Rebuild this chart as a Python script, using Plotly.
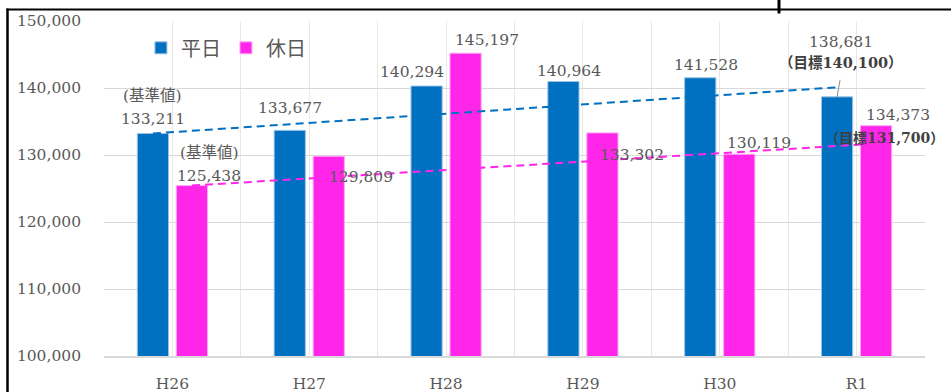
import plotly.graph_objects as go

# ---------------- data ----------------
categories = ["H26", "H27", "H28", "H29", "H30", "R1"]
weekday = [133211, 133677, 140294, 140964, 141528, 138681]
holiday = [125438, 129809, 145197, 133302, 130119, 134373]
weekday_target = 140100
holiday_target = 131700
y_ticks = [100000, 110000, 120000, 130000, 140000, 150000]
series_names = ["平日", "休日"]
base_label = "(基準値)"
target_fmt = "（目標{:,}）"

# ---------------- style ----------------
W, H = 951, 392
ML, MR, MT, MB = 104, 26, 21, 36
PW, PH = W - ML - MR, H - MT - MB
BLUE = "#0070C0"
PINK = "#FF26E9"
TEXT = "#595959"
DARK = "#404040"
SERIF = "DejaVu Serif, Noto Sans CJK JP"
FS = 15.5
BARGAP, GROUPGAP = 0.43, 0.2
off = (1 - BARGAP) / 4  # centre offset of each bar within the group

# label offsets in px (dx right, dy up) of text centre from bar-top centre
wk_off = [(0, 14), (0.5, 22), (-15, 14), (5.5, 10.5), (5.5, 13), (3.5, 55)]
hd_off = [(17.5, 9.6), (32.5, -21), (21.5, 13), (29.5, -22), (19.5, 11), (21.5, 10.7)]

xs = list(range(len(categories)))

fig = go.Figure()
fig.add_trace(go.Bar(x=xs, y=weekday, name=series_names[0],
                     marker=dict(color=BLUE, line=dict(color="#9DC3E6", width=1))))
fig.add_trace(go.Bar(x=xs, y=holiday, name=series_names[1],
                     marker=dict(color=PINK, line=dict(color="#FFA8F5", width=1))))

# dashed trend lines from base year to target
fig.add_trace(go.Scatter(x=[xs[0] - off, xs[-1] - off], y=[weekday[0], weekday_target],
                         mode="lines", showlegend=False, hoverinfo="skip",
                         line=dict(color=BLUE, width=2, dash="8px,5px")))
fig.add_trace(go.Scatter(x=[xs[0] + off, xs[-1] + off], y=[holiday[0], holiday_target],
                         mode="lines", showlegend=False, hoverinfo="skip",
                         line=dict(color=PINK, width=2, dash="8px,5px")))

ann = []
def lab(x, y, text, dx, dy, bold=False, xanchor="center", color=TEXT, size=FS):
    ann.append(dict(x=x, y=y, xref="x", yref="y", text=("<b>%s</b>" % text) if bold else text,
                    showarrow=False, xanchor=xanchor, yanchor="middle",
                    xshift=dx, yshift=dy,
                    font=dict(family=SERIF, size=size, color=color)))

for i, v in enumerate(weekday):
    dx, dy = wk_off[i]
    lab(xs[i] - off, v, f"{v:,}", dx, dy)
for i, v in enumerate(holiday):
    dx, dy = hd_off[i]
    lab(xs[i] + off, v, f"{v:,}", dx, dy)

# base-year labels
lab(xs[0] - off, weekday[0], base_label, wk_off[0][0], wk_off[0][1] + 23)
lab(xs[0] + off, holiday[0], base_label, hd_off[0][0], hd_off[0][1] + 23)
# target labels
lab(xs[-1] - off, weekday[-1], target_fmt.format(weekday_target), 3.5, 34,
    bold=True, color=DARK, size=14.5)
lab(xs[-1] + off, holiday[-1], target_fmt.format(holiday_target), -53, -12.3,
    bold=True, xanchor="left", color=DARK, size=14)

def px_x(p):
    return (p - ML) / PW
def px_y(p):
    return (H - MB - p) / PH

shapes = [
    # leader line for R1 weekday label
    dict(type="line", xref="x", yref="y", xsizemode="pixel", ysizemode="pixel",
         xanchor=xs[-1] - off, yanchor=weekday[-1], x0=0, y0=0, x1=3, y1=17,
         line=dict(color="#8C8C8C", width=1)),
    # outer frame
    dict(type="line", xref="paper", yref="paper", x0=px_x(7.5), x1=px_x(7.5),
         y0=px_y(8.5), y1=px_y(H + 2), line=dict(color="black", width=2.5)),
    dict(type="line", xref="paper", yref="paper", x0=px_x(6.5), x1=px_x(W + 2),
         y0=px_y(9.5), y1=px_y(9.5), line=dict(color="black", width=2)),
    dict(type="line", xref="paper", yref="paper", x0=px_x(779), x1=px_x(779),
         y0=px_y(0), y1=px_y(13.5), line=dict(color="black", width=3)),
]

fig.update_layout(
    width=W, height=H,
    margin=dict(l=ML, r=MR, t=MT, b=MB, pad=0),
    paper_bgcolor="white", plot_bgcolor="white",
    barmode="group", bargap=BARGAP, bargroupgap=GROUPGAP,
    annotations=ann, shapes=shapes,
    legend=dict(orientation="h", x=0.045, y=0.978, xanchor="left", yanchor="top",
                font=dict(family="Noto Sans CJK JP", size=20, color=TEXT),
                bgcolor="rgba(0,0,0,0)", itemwidth=30, tracegroupgap=0),
    xaxis=dict(range=[-0.5, len(categories) - 0.5], tickmode="array", tickvals=xs,
               ticktext=categories, showgrid=True, gridcolor="#E8E8E8", gridwidth=1.3,
               minor=dict(tickmode="array",
                          tickvals=[x - 0.5 for x in xs] + [xs[-1] + 0.5],
                          showgrid=True, gridcolor="#E8E8E8", gridwidth=1.3),
               showline=True, linecolor="#D9D9D9", linewidth=2, ticks="",
               zeroline=False, ticklabelstandoff=12, automargin=False,
               tickfont=dict(family=SERIF, size=FS, color=TEXT)),
    yaxis=dict(range=[y_ticks[0], y_ticks[-1]], tickmode="array", tickvals=y_ticks,
               tickformat=",", showgrid=True, gridcolor="#D9D9D9", gridwidth=1.3,
               zeroline=False, ticks="", ticklabelstandoff=22, automargin=False,
               tickfont=dict(family=SERIF, size=FS, color=TEXT)),
)

fig.write_html("out.html")
